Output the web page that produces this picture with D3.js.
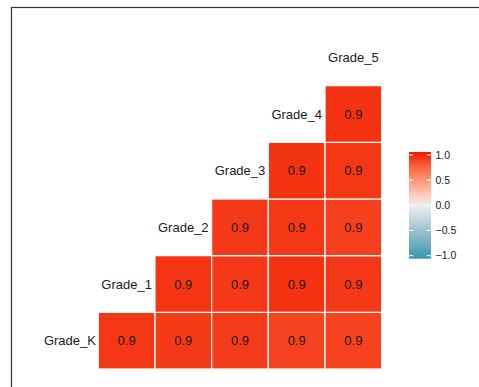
<!DOCTYPE html>
<html>
<head>
<meta charset="utf-8">
<script src="https://cdn.jsdelivr.net/npm/d3@7"></script>
<style>
  html, body { margin: 0; padding: 0; background: #fff; }
  svg { display: block; font-family: "Liberation Sans", Arial, Helvetica, sans-serif; }
</style>
</head>
<body>
<svg id="chart" width="479" height="387"></svg>
<script>
// Variables of the correlation matrix, in display order
const variables = ["Grade_K", "Grade_1", "Grade_2", "Grade_3", "Grade_4", "Grade_5"];

// Lower-triangle correlations: each pair [row variable, column variable, r]
const rowVar = ["Grade_K","Grade_K","Grade_K","Grade_K","Grade_K",
                "Grade_1","Grade_1","Grade_1","Grade_1",
                "Grade_2","Grade_2","Grade_2",
                "Grade_3","Grade_3",
                "Grade_4"];
const colVar = ["Grade_1","Grade_2","Grade_3","Grade_4","Grade_5",
                "Grade_2","Grade_3","Grade_4","Grade_5",
                "Grade_3","Grade_4","Grade_5",
                "Grade_4","Grade_5",
                "Grade_5"];
const rValues = [0.935, 0.925, 0.92, 0.90, 0.90,
                 0.94, 0.93, 0.949, 0.93,
                 0.93, 0.935, 0.905,
                 0.945, 0.935,
                 0.949];

const legendTicks = [1.0, 0.5, 0.0, -0.5, -1.0];

const cells = rowVar.map((r, i) => ({ row: r, col: colVar[i], value: rValues[i] }));

const svg = d3.select("#chart");

// panel border
svg.append("rect")
  .attr("x", 11.5).attr("y", 7.5)
  .attr("width", 600).attr("height", 600)
  .attr("fill", "none").attr("stroke", "#333").attr("stroke-width", 1.2);

// 6x6 grid: diagonal positions carry the variable names
const x = d3.scaleBand().domain(variables).range([41.6, 381.7]).padding(0);
const y = d3.scaleBand().domain(variables.slice().reverse()).range([29, 369]).padding(0);

const color = d3.scaleLinear()
  .domain([-1, 0, 1])
  .range(["#3B9AB2", "#EEEEEE", "#F21A00"])
  .interpolate(d3.interpolateLab);

const fmt = v => (Math.round(v * 10) / 10).toFixed(1);

const g = svg.append("g");

g.selectAll("rect.cell")
  .data(cells)
  .join("rect")
  .attr("class", "cell")
  .attr("x", d => x(d.col))
  .attr("y", d => y(d.row))
  .attr("width", x.bandwidth())
  .attr("height", y.bandwidth())
  .attr("fill", d => color(d.value))
  .attr("stroke", "#fff")
  .attr("stroke-width", 1.2);

g.selectAll("text.val")
  .data(cells)
  .join("text")
  .attr("class", "val")
  .attr("x", d => x(d.col) + x.bandwidth() / 2)
  .attr("y", d => y(d.row) + y.bandwidth() / 2)
  .attr("text-anchor", "middle")
  .attr("dy", "0.36em")
  .attr("font-size", 13)
  .attr("fill", "#1a1a1a")
  .text(d => fmt(d.value));

// variable names on the diagonal
g.selectAll("text.var")
  .data(variables)
  .join("text")
  .attr("class", "var")
  .attr("x", d => x(d) + x.bandwidth() / 2)
  .attr("y", d => y(d) + y.bandwidth() / 2)
  .attr("text-anchor", "middle")
  .attr("dy", "0.36em")
  .attr("font-size", 13)
  .attr("fill", "#1a1a1a")
  .text(d => d);

// colour bar legend
const barX = 409, barW = 22;
const ly = d3.scaleLinear().domain([-1, 1]).range([255.7, 155]);
const defs = svg.append("defs");
const grad = defs.append("linearGradient")
  .attr("id", "lg").attr("x1", 0).attr("y1", 1).attr("x2", 0).attr("y2", 0);
const stops = d3.range(0, 21).map(i => -1.06 + i * (2.12 / 20));
grad.selectAll("stop")
  .data(stops)
  .join("stop")
  .attr("offset", (d, i) => i / 20)
  .attr("stop-color", d => color(Math.max(-1, Math.min(1, d))));

const barTop = ly(1.06), barBot = ly(-1.06);
svg.append("rect")
  .attr("x", barX).attr("y", barTop)
  .attr("width", barW).attr("height", barBot - barTop)
  .attr("fill", "url(#lg)");

const lg = svg.append("g");
legendTicks.forEach(t => {
  const ty = ly(t);
  lg.append("line").attr("x1", barX).attr("x2", barX + 4.4)
    .attr("y1", ty).attr("y2", ty).attr("stroke", "#fff").attr("stroke-width", 1);
  lg.append("line").attr("x1", barX + barW - 4.4).attr("x2", barX + barW)
    .attr("y1", ty).attr("y2", ty).attr("stroke", "#fff").attr("stroke-width", 1);
  lg.append("text")
    .attr("x", barX + barW + 4.5)
    .attr("y", ty)
    .attr("dy", "0.36em")
    .attr("font-size", 10.5)
    .attr("fill", "#1a1a1a")
    .text(d3.format(".1f")(t).replace("-", "\u2212"));
});
</script>
</body>
</html>
